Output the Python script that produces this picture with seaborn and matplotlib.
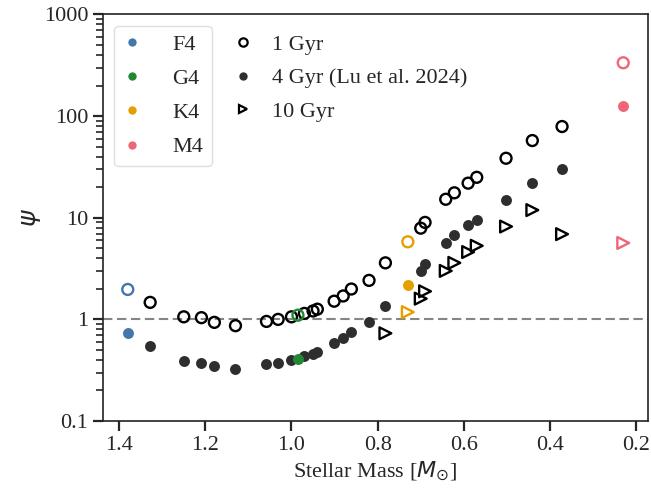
import matplotlib
matplotlib.use("Agg")
import matplotlib.pyplot as plt
from matplotlib.lines import Line2D
import seaborn as sns

# Stellar masses [M_sun] for the reference sequence
mass = [1.328, 1.25, 1.209, 1.179, 1.13, 1.058, 1.031, 1.0, 0.97, 0.95, 0.94,
        0.901, 0.88, 0.861, 0.82, 0.782, 0.70, 0.69, 0.642, 0.622, 0.59, 0.57,
        0.502, 0.441, 0.372]
psi_1gyr = [1.47, 1.06, 1.04, 0.935, 0.867, 0.955, 1.0, 1.06, 1.145, 1.21, 1.26,
            1.51, 1.70, 1.99, 2.42, 3.6, 7.9, 9.0, 15.2, 17.6, 21.9, 25.0,
            38.5, 57.5, 79.0]
psi_4gyr = [0.545, 0.392, 0.371, 0.345, 0.327, 0.363, 0.371, 0.40, 0.435, 0.459,
            0.48, 0.58, 0.655, 0.745, 0.94, 1.36, 2.97, 3.52, 5.65, 6.7, 8.4,
            9.5, 14.9, 22.2, 30.0]

# 10 Gyr only exists for the lower-mass part of the sequence
mass_10gyr = [0.782, 0.70, 0.69, 0.642, 0.622, 0.59, 0.57, 0.502, 0.441, 0.372]
psi_10gyr = [0.73, 1.6, 1.89, 3.0, 3.6, 4.6, 5.3, 8.2, 11.9, 6.9]

# Highlighted spectral types
sptypes = ["F4", "G4", "K4", "M4"]
sp_colors = ["#4477AA", "#228833", "#E69F00", "#EE6677"]
sp_mass = [1.38, 0.985, 0.73, 0.23]
sp_psi_1gyr = [1.97, 1.10, 5.8, 335.0]
sp_psi_4gyr = [0.73, 0.41, 2.2, 125.0]
sp_10gyr_types = ["K4", "M4"]
sp_psi_10gyr = [1.18, 5.65]

sns.set_style("ticks")
plt.rcParams["font.family"] = ["Liberation Serif", "DejaVu Serif"]
plt.rcParams["mathtext.fontset"] = "dejavusans"
plt.rcParams["font.size"] = 16

fig = plt.figure(figsize=(6.51, 4.93), dpi=100)
ax = fig.add_axes([0.1582, 0.146, 0.8372, 0.8246])

S = 62
S_TRI = 72
LW = 1.7
DARK = "#2e2e2e"

ax.axhline(1, color="#858585", lw=1.5, ls=(0, (4.5, 2.2)), zorder=1)

sns.scatterplot(x=mass, y=psi_1gyr, marker="o", s=S, facecolor="none",
                edgecolor="k", linewidth=LW, ax=ax, zorder=3)
sns.scatterplot(x=mass, y=psi_4gyr, marker="o", s=S, color=DARK,
                linewidth=0, ax=ax, zorder=3)
sns.scatterplot(x=mass_10gyr, y=psi_10gyr, marker=">", s=S_TRI, facecolor="none",
                edgecolor="k", linewidth=LW, ax=ax, zorder=3)

for name, c, m, p1, p4 in zip(sptypes, sp_colors, sp_mass, sp_psi_1gyr, sp_psi_4gyr):
    sns.scatterplot(x=[m], y=[p1], marker="o", s=S, facecolor="none",
                    edgecolor=c, linewidth=LW, ax=ax, zorder=4)
    sns.scatterplot(x=[m], y=[p4], marker="o", s=S, color=c,
                    linewidth=0, ax=ax, zorder=4)
for name, p10 in zip(sp_10gyr_types, sp_psi_10gyr):
    i = sptypes.index(name)
    sns.scatterplot(x=[sp_mass[i]], y=[p10], marker=">", s=S_TRI, facecolor="none",
                    edgecolor=sp_colors[i], linewidth=LW, ax=ax, zorder=4)

ax.set_yscale("log")
ax.set_ylim(0.1, 1000)
ax.invert_xaxis()
ax.set_yticks([0.1, 1, 10, 100, 1000])
ax.set_yticklabels(["0.1", "1", "10", "100", "1000"])
ax.set_xticks([1.4, 1.2, 1.0, 0.8, 0.6, 0.4, 0.2])
ax.set_xticklabels(["1.4", "1.2", "1.0", "0.8", "0.6", "0.4", "0.2"])
ax.tick_params(axis="both", which="major", length=7, width=1.6, labelsize=16)
ax.tick_params(axis="y", which="minor", length=5, width=1.2)
for sp in ax.spines.values():
    sp.set_linewidth(1.2)
    sp.set_color("#222222")

ax.set_xlabel(r"Stellar Mass [$M_{\odot}$]", fontsize=16)
ax.set_ylabel(r"$\psi$", fontsize=18, labelpad=1)

type_handles = [Line2D([], [], ls="none", marker="o", ms=6, color=c,
                       markeredgewidth=0) for c in sp_colors]
leg1 = ax.legend(type_handles, sptypes, loc="upper left", fontsize=16,
                 handlelength=0.8, handletextpad=1.4, frameon=True,
                 labelspacing=0.61)
leg1.get_frame().set_edgecolor("#d8d8d8")
ax.add_artist(leg1)

age_handles = [
    Line2D([], [], ls="none", marker="o", ms=6, mfc="none", mec="k", mew=1.6),
    Line2D([], [], ls="none", marker="o", ms=6, color=DARK, markeredgewidth=0),
    Line2D([], [], ls="none", marker=">", ms=6, mfc="none", mec="k", mew=1.6),
]
ax.legend(age_handles, ["1 Gyr", "4 Gyr (Lu et al. 2024)", "10 Gyr"],
          loc="upper left", bbox_to_anchor=(0.204, 1.0), fontsize=16,
          handlelength=0.8, handletextpad=0.9, frameon=False,
          labelspacing=0.58)

fig.savefig("out.png", dpi=100)
